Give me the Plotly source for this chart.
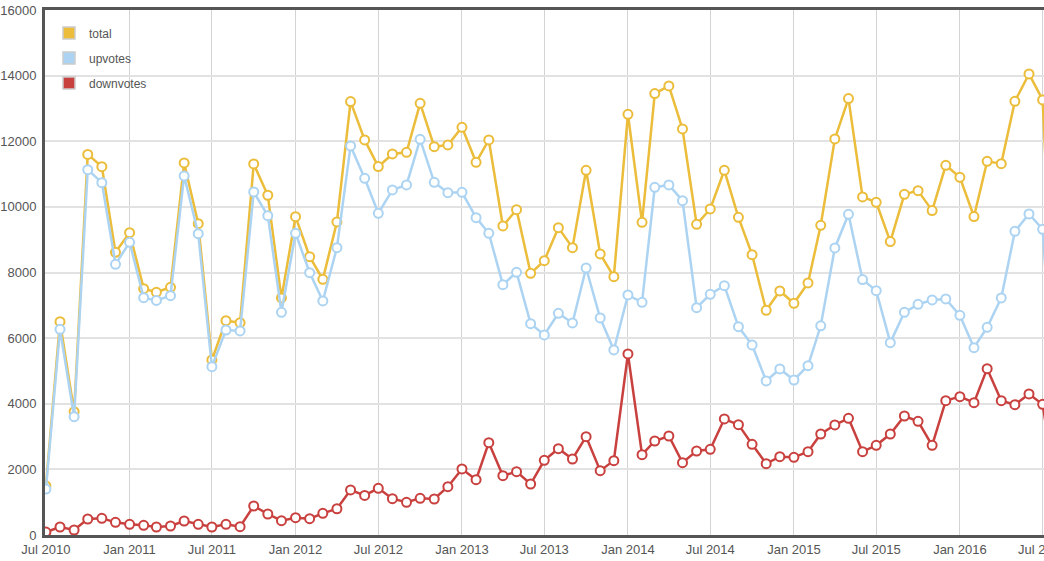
import pandas as pd
import plotly.graph_objects as go

months = pd.date_range("2010-07-01", periods=74, freq="MS")

total = [1494, 6500, 3760, 11600, 11226, 8616,
         9215, 7508, 7397, 7550, 11339, 9489, 5334, 6532, 6471, 11308, 10354, 7224,
         9702, 8483, 7792, 9540, 13208, 12040, 11227, 11613, 11663, 13157, 11836, 11887,
         12426, 11359, 12040, 9418, 9916, 7975, 8361, 9367, 8758, 11115, 8565, 7874,
         12822, 9530, 13452, 13686, 12375, 9469, 9936, 11115, 9682, 8544, 6848, 7437,
         7061, 7681, 9439, 12070, 13300, 10302, 10140, 8941, 10383, 10495, 9886, 11267,
         10901, 9703, 11389, 11318, 13218, 14051, 13259, 4200]

upvotes = [1400, 6270, 3606, 11135, 10738, 8250,
           8920, 7233, 7150, 7294, 10942, 9184, 5130, 6248, 6218, 10455, 9733, 6787,
           9195, 7996, 7132, 8758, 11857, 10871, 9804, 10516, 10668, 12060, 10749, 10434,
           10444, 9672, 9195, 7630, 8006, 6441, 6096, 6756, 6462, 8138, 6614, 5639,
           7315, 7092, 10597, 10668, 10190, 6929, 7336, 7600, 6350, 5791, 4694, 5060,
           4724, 5161, 6375, 8748, 9774, 7783, 7447, 5862, 6787, 7031, 7163, 7193,
           6695, 5710, 6330, 7224, 9256, 9784, 9317, 3000]

downvotes = [90, 244, 152, 488, 508, 386,
             325, 295, 244, 274, 427, 325, 244, 325, 254, 884, 640, 437,
             528, 498, 660, 800, 1372, 1205, 1422, 1107, 996, 1118, 1097, 1473,
             2012, 1686, 2814, 1808, 1930, 1554, 2276, 2631, 2316, 2997, 1961, 2266,
             5517, 2449, 2865, 3017, 2205, 2560, 2611, 3536, 3363, 2764, 2174, 2388,
             2367, 2540, 3078, 3353, 3556, 2540, 2733, 3078, 3627, 3464, 2733, 4094,
             4216, 4033, 5070, 4094, 3972, 4298, 3982, 1200]

series = [("total", total, "#ebbd3b"),
          ("upvotes", upvotes, "#acd4f2"),
          ("downvotes", downvotes, "#c9413f")]

fig = go.Figure()
for name, vals, col in series:
    fig.add_trace(go.Scatter(
        x=months, y=vals, name=name, mode="lines+markers",
        line=dict(color=col, width=2.5),
        marker=dict(symbol="circle", size=9, color="white",
                    line=dict(color=col, width=2)),
        showlegend=False, cliponaxis=True))
for name, vals, col in series:
    fig.add_trace(go.Bar(
        x=[None], y=[None], name=name, legendgroup=name,
        marker=dict(color=col, line=dict(color="#cccccc", width=1.5))))

fig.update_layout(
    width=1044, height=561,
    margin=dict(l=45, r=0, t=10, b=26, autoexpand=False),
    paper_bgcolor="white", plot_bgcolor="white",
    font=dict(family="Liberation Sans, Arial, sans-serif", size=13, color="#555555"),
    showlegend=True,
    legend=dict(x=0.004, y=0.984, xanchor="left", yanchor="top",
                bgcolor="rgba(255,255,255,0)", tracegroupgap=6,
                font=dict(size=12, color="#555555")),
    xaxis=dict(
        type="date", range=["2010-06-29", "2016-07-04"],
        tick0="2010-07-01", dtick="M6", tickformat="%b %Y",
        showgrid=True, gridcolor="#d3d3d3", gridwidth=1,
        showline=True, linecolor="#555555", linewidth=3, mirror=True,
        ticks="", zeroline=False, ticklabeloverflow="allow", automargin=False,
        tickfont=dict(size=13, color="#555555")),
    yaxis=dict(
        range=[0, 16000], dtick=2000, tickformat="d",
        showgrid=True, gridcolor="#e2e2e2", gridwidth=2,
        showline=True, linecolor="#555555", linewidth=3,
        ticks="", zeroline=False, ticklabelstandoff=3, automargin=False,
        tickfont=dict(size=13, color="#555555")),
)

fig.write_html("out.html")
